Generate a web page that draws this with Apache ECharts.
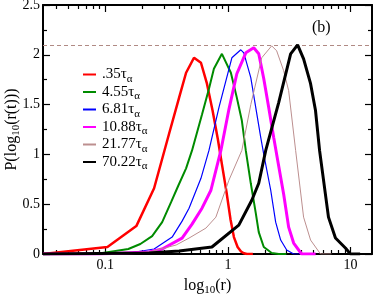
<!DOCTYPE html>
<html>
<head>
<meta charset="utf-8">
<script src="https://cdn.jsdelivr.net/npm/echarts@6/dist/echarts.min.js"></script>
<style>html,body{margin:0;padding:0;background:#fff}#c{width:374px;height:294px}</style>
</head>
<body>
<div id="c"></div>
<script>
// ---- data ----
var seriesNames = ['.35τ', '4.55τ', '6.81τ', '10.88τ', '21.77τ', '70.22τ'];

var redR = [0.031, 0.104, 0.179, 0.25, 0.33, 0.40, 0.456, 0.529, 0.603, 0.675, 0.75, 0.829, 0.90, 0.975, 1.05, 1.12, 1.2, 1.28, 1.35, 1.43, 1.6];
var redP = [0.0, 0.07, 0.28, 0.66, 1.2, 1.57, 1.82, 1.97, 1.92, 1.71, 1.44, 1.15, 0.88, 0.62, 0.35, 0.17, 0.07, 0.025, 0.008, 0.0, 0.0];

var greenR = [0.031, 0.0894, 0.154, 0.193, 0.241, 0.291, 0.344, 0.392, 0.456, 0.51, 0.615, 0.701, 0.769, 0.894, 1.058, 1.183, 1.30, 1.40, 1.538, 1.689, 1.786, 1.963, 2.279, 2.598, 3.0];
var greenP = [0.0, 0.005, 0.05, 0.1, 0.18, 0.32, 0.52, 0.68, 0.86, 1.04, 1.40, 1.66, 1.86, 2.01, 1.82, 1.57, 1.34, 1.04, 0.71, 0.41, 0.22, 0.07, 0.01, 0.0, 0.0];

var blueR = [0.031, 0.0894, 0.157, 0.25, 0.351, 0.423, 0.482, 0.603, 0.701, 0.845, 1.078, 1.275, 1.349, 1.538, 1.689, 1.854, 1.963, 2.237, 2.455, 2.697, 3.019, 3.441, 4.0];
var blueP = [0.0, 0.0, 0.01, 0.05, 0.17, 0.33, 0.46, 0.76, 1.04, 1.47, 1.97, 2.05, 2.02, 1.77, 1.47, 1.17, 1.0, 0.64, 0.32, 0.14, 0.04, 0.0, 0.0];

var magentaR = [0.031, 0.0894, 0.228, 0.291, 0.423, 0.51, 0.615, 0.727, 0.877, 1.019, 1.183, 1.401, 1.626, 1.786, 1.963, 2.154, 2.366, 2.501, 2.853, 3.133, 3.441, 3.996, 5.2];
var magentaP = [0.0, 0.0, 0.02, 0.05, 0.16, 0.3, 0.46, 0.64, 1.04, 1.45, 1.81, 2.02, 2.07, 2.01, 1.76, 1.47, 1.17, 1.0, 0.6, 0.27, 0.11, 0.0, 0.0];

var brownR = [0.031, 0.0894, 0.228, 0.378, 0.482, 0.662, 0.798, 1.019, 1.30, 1.538, 1.889, 2.279, 2.501, 2.853, 3.133, 3.572, 4.148, 4.73, 5.7, 7.0];
var brownP = [0.0, 0.0, 0.02, 0.09, 0.16, 0.26, 0.37, 0.74, 1.04, 1.5, 1.97, 2.09, 2.04, 1.84, 1.64, 1.04, 0.37, 0.14, 0.0, 0.0];

var blackR = [0.031, 0.0894, 0.228, 0.4, 0.741, 1.228, 1.567, 1.786, 2.037, 2.598, 3.252, 3.707, 4.148, 4.73, 5.19, 5.6, 6.62, 7.55, 9.1, 10.0, 12.0];
var blackP = [0.0, 0.005, 0.01, 0.03, 0.07, 0.29, 0.54, 0.71, 1.04, 1.52, 2.01, 2.1, 1.96, 1.71, 1.44, 1.04, 0.37, 0.16, 0.06, 0.0, 0.0];

var refLevel = 2.1;
var xMajorTicks = [0.1, 1, 10];
var xMinorTicks = [0.04, 0.05, 0.06, 0.07, 0.08, 0.09, 0.2, 0.3, 0.4, 0.5, 0.6, 0.7, 0.8, 0.9, 2, 3, 4, 5, 6, 7, 8, 9];
var yTickLabels = ['0', '0.5', '1', '1.5', '2', '2.5'];

// ---- chart ----
var FONT = 'Liberation Serif';
function pairs(rs, ps) { return rs.map(function (r, i) { return [r, ps[i]]; }); }
var rs = [redR, greenR, blueR, magentaR, brownR, blackR];
var ps = [redP, greenP, blueP, magentaP, brownP, blackP];
var colors = ['#ff0000', '#008b00', '#0000ff', '#ff00ff', '#bc8f8f', '#000000'];
var widths = [2.5, 2, 1.2, 3, 1, 3];

var series = seriesNames.map(function (n, i) {
  return {
    name: n, type: 'line', xAxisIndex: 0, yAxisIndex: 0,
    data: pairs(rs[i], ps[i]), symbol: 'none', smooth: false,
    lineStyle: { color: colors[i], width: widths[i] },
    itemStyle: { color: colors[i] }, z: 3 + i
  };
});
series[0].markLine = {
  silent: true, symbol: 'none', label: { show: false },
  lineStyle: { color: '#b08a84', width: 1, type: [4, 3] },
  data: [{ yAxis: refLevel }]
};

var xBase = { type: 'log', logBase: 10, min: 0.031, max: 15, gridIndex: 0,
  splitLine: { show: false } };
function xAxisDef(pos, major, showLabel, showLine) {
  return Object.assign({}, xBase, {
    position: pos,
    axisLine: { show: showLine, onZero: false, lineStyle: { color: '#000', width: 2 } },
    axisTick: { show: true, inside: true, length: major ? 7 : 4,
      customValues: major ? xMajorTicks : xMinorTicks, lineStyle: { color: '#000', width: 1.2 } },
    axisLabel: { show: showLabel, customValues: xMajorTicks, margin: 4,
      fontFamily: FONT, fontSize: 14, color: '#000',
      formatter: function (v) { return v >= 1 ? String(Math.round(v)) : String(v); } },
    name: showLabel ? '{a|log}{s|10}{a|(r)}' : '', nameLocation: 'middle', nameGap: 22,
    nameMoveOverlap: false,
    nameTextStyle: { rich: { a: { fontFamily: FONT, fontSize: 16, color: '#000' },
      s: { fontFamily: FONT, fontSize: 11, color: '#000', padding: [9, 0, 0, 0] } } }
  });
}

var option = {
  animation: false,
  backgroundColor: '#fff',
  title: { text: '(b)', left: 307, top: 15,
    textStyle: { fontFamily: FONT, fontSize: 16, fontWeight: 'normal', color: '#000' } },
  grid: { left: 43, right: 2, top: 5, bottom: 40, containLabel: false, outerBoundsMode: 'none' },
  legend: {
    orient: 'vertical', left: 77, top: 62, itemWidth: 13, itemHeight: 10, itemGap: 0,
    data: seriesNames,
    itemStyle: { opacity: 0 },
    formatter: function (n) { return '{m|' + n + '}{s|α}'; },
    textStyle: { fontFamily: FONT, fontSize: 15, color: '#000', padding: [0, 0, 0, 1],
      rich: { m: { fontFamily: FONT, fontSize: 15, color: '#000' },
        s: { fontFamily: FONT, fontSize: 11, color: '#000', padding: [9, 0, 0, 0] } } }
  },
  xAxis: [
    xAxisDef('bottom', true, true, true),
    xAxisDef('bottom', false, false, false),
    xAxisDef('top', true, false, true),
    xAxisDef('top', false, false, false)
  ],
  yAxis: [
    { type: 'value', min: 0, max: 2.5, interval: 0.5, position: 'left',
      splitLine: { show: false },
      axisLine: { show: true, onZero: false, lineStyle: { color: '#000', width: 2 } },
      axisTick: { inside: true, length: 7, lineStyle: { color: '#000', width: 1.2 } },
      minorTick: { show: true, splitNumber: 2, length: 4, lineStyle: { color: '#000', width: 1.2 } },
      axisLabel: { margin: 3, fontFamily: FONT, fontSize: 14, color: '#000',
        formatter: function (v) { return yTickLabels[Math.round(v * 2)]; } },
      name: '{a|P(log}{s|10}{a|(r(t)))}', nameLocation: 'middle', nameGap: 21, nameRotate: 90,
      nameMoveOverlap: false,
      nameTextStyle: { rich: { a: { fontFamily: FONT, fontSize: 16, color: '#000' },
        s: { fontFamily: FONT, fontSize: 11, color: '#000', padding: [9, 0, 0, 0] } } }
    },
    { type: 'value', min: 0, max: 2.5, interval: 0.5, position: 'right',
      splitLine: { show: false },
      axisLine: { show: true, onZero: false, lineStyle: { color: '#000', width: 2 } },
      axisTick: { inside: true, length: 7, lineStyle: { color: '#000', width: 1.2 } },
      minorTick: { show: true, splitNumber: 2, length: 4, lineStyle: { color: '#000', width: 1.2 } },
      axisLabel: { show: false }
    }
  ],
  series: series
};
var chart = echarts.init(document.getElementById('c'), null, { renderer: 'canvas' });
chart.setOption(option);
</script>
</body>
</html>
